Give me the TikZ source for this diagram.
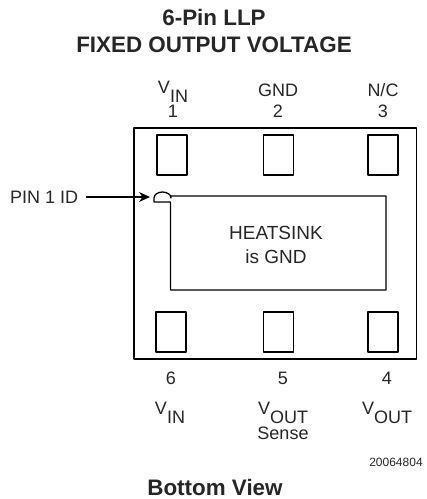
\documentclass[tikz,border=0pt]{standalone}
\usepackage{fontspec}
\usetikzlibrary{arrows.meta}
\setmainfont{Liberation Sans}
\begin{document}
\begin{tikzpicture}[line join=round, line cap=round,>=stealth,x=1pt,y=-1pt]
                \tikzset{label style/.style={font=\fontsize{18}{24}\selectfont,inner sep=0pt,text=black!85},
                    title style/.style={font=\fontsize{22.4}{27}\selectfont\bfseries,inner sep=0pt,align=center,text=black!85},
                    pad style/.style={draw,line width=1.2pt,minimum width=30pt,minimum height=40pt,inner sep=0pt},
                    pack style/.style={line width=1.7pt},
                    sink style/.style={line width=1.3pt}}
                \def \sublabel#1#2{#1\raisebox{-9pt}{#2}}
                \useasboundingbox (0,0) rectangle (427,499);
                \node[title style] (title) at (214,31) {6-Pin LLP\\FIXED OUTPUT VOLTAGE};
                \draw[pack style] (134,128) rectangle (416.5,359);
                % pads
                \node[pad style] (pad1) at (172,155) {};
                \node[pad style] (pad2) at (278.5,155) {};
                \node[pad style] (pad3) at (383,155) {};
                \node[pad style] (pad6) at (171,332) {};
                \node[pad style] (pad5) at (278.5,332) {};
                \node[pad style] (pad4) at (383,332) {};
                % heatsink
                \coordinate (notch) at (154,202);
                \draw[sink style] (notch) -- (154,198) arc (180:360:8.5 and 6) -- (171,196) -- (386,196) -- (386,290) -- (170.5,290) -- (170.5,202) -- (notch);
                \node[label style,font=\fontsize{19}{24}\selectfont,align=center] (sink) at (276,245) {HEATSINK\\is GND};
                % pin 1 marker
                \node[label style,anchor=west] (pinid) at (10,197) {PIN 1 ID};
                \coordinate (tip) at (150,197);
                \draw[->,line width=1.1pt,>={Stealth[length=11pt,width=10pt]}] (pinid.east)++(8,0) -- (tip);
                % top labels
                \node[label style,anchor=base] (vin1) at (173,93) {\sublabel{V}{IN}};
                \node[label style] (num1) at (173,111) {1};
                \node[label style] (gnd) at (278,90) {GND};
                \node[label style] (num2) at (278,111) {2};
                \node[label style] (nc) at (383,90) {N/C};
                \node[label style] (num3) at (383,111) {3};
                % bottom labels
                \node[label style] (num6) at (171,378) {6};
                \node[label style] (num5) at (283,378) {5};
                \node[label style] (num4) at (387,378) {4};
                \node[label style,anchor=base] (vin6) at (170,414) {\sublabel{V}{IN}};
                \node[label style,anchor=base] (vout5) at (283,414) {\sublabel{V}{OUT}};
                \node[label style] (sense) at (283,433) {Sense};
                \node[label style,anchor=base] (vout4) at (387,414) {\sublabel{V}{OUT}};
                \node[inner sep=0pt,font=\fontsize{12}{13}\selectfont,text=black!85] (code) at (396,462) {20064804};
                \node[title style] (view) at (215,487) {Bottom View};
\end{tikzpicture}
\end{document}
